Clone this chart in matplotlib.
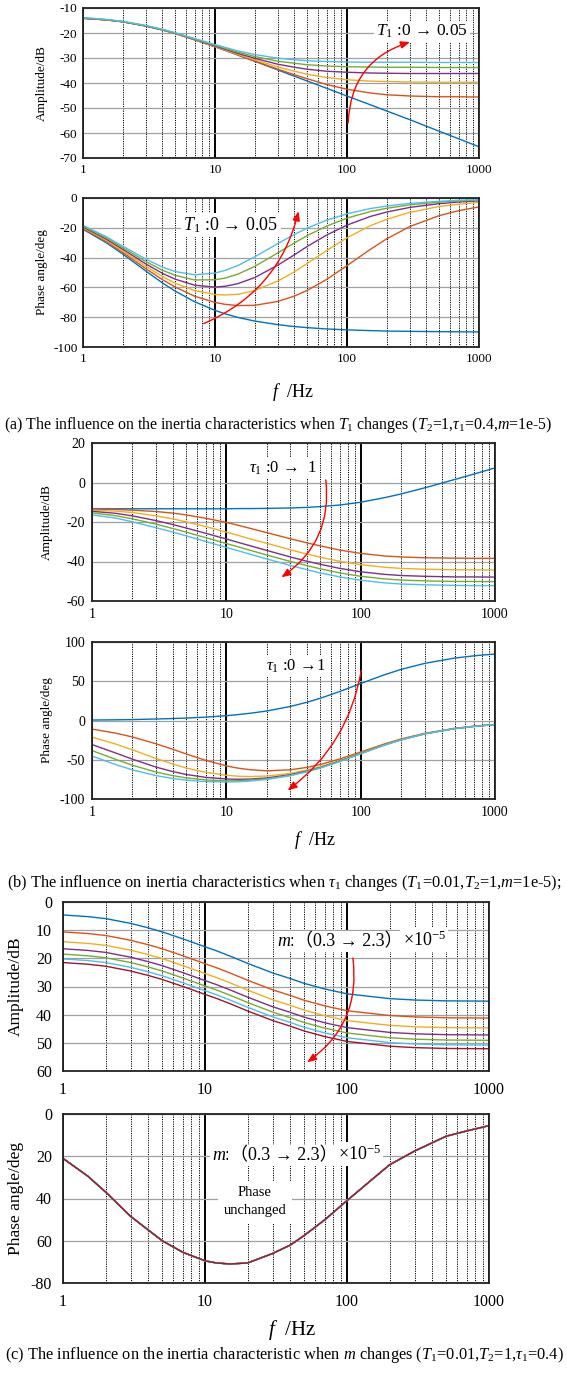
import matplotlib
matplotlib.use("Agg")
import matplotlib.pyplot as plt
from matplotlib.ticker import LogLocator, NullFormatter

plt.rcParams['font.family'] = ['Liberation Serif', 'DejaVu Serif']
plt.rcParams['mathtext.fontset'] = 'custom'
plt.rcParams['mathtext.rm'] = 'Liberation Serif'
plt.rcParams['mathtext.it'] = 'Liberation Serif:italic'
plt.rcParams['axes.unicode_minus'] = False

W, H = 567, 1374

freq = [1, 1.5, 2, 3, 4, 5, 7, 10, 12, 15, 20, 30, 40, 50, 70, 100, 150, 200, 300, 500, 700, 1000]
colors = ['#0072BD', '#D95319', '#EDB120', '#7E2F8E', '#77AC30', '#4DBEEE', '#A2142F']
xticks = [1, 10, 100, 1000]
xticklabels = ['1', '10', '100', '1000']

# (a) T1 : 0 -> 0.05
amp_a = [
    [-14.1, -14.75, -15.5, -17.2, -18.8, -20.2, -22.7, -25.5, -27.0, -28.9, -31.3, -34.8, -37.3, -39.2, -42.1, -45.2, -48.7, -51.2, -54.7, -59.3, -62.3, -65.5],
    [-14.1, -14.75, -15.5, -17.2, -18.8, -20.2, -22.7, -25.5, -26.9, -28.8, -31.2, -34.5, -36.7, -38.3, -40.6, -42.5, -44.0, -44.7, -45.2, -45.5, -45.5, -45.6],
    [-14.1, -14.75, -15.5, -17.2, -18.75, -20.2, -22.6, -25.4, -26.8, -28.6, -30.7, -33.6, -35.3, -36.5, -37.8, -38.7, -39.25, -39.4, -39.6, -39.7, -39.7, -39.7],
    [-14.1, -14.75, -15.5, -17.2, -18.7, -20.1, -22.5, -25.2, -26.5, -28.2, -30.1, -32.5, -33.7, -34.5, -35.3, -35.7, -36.0, -36.1, -36.2, -36.2, -36.2, -36.2],
    [-14.0, -14.7, -15.5, -17.1, -18.65, -20.0, -22.4, -24.9, -26.2, -27.7, -29.4, -31.3, -32.1, -32.7, -33.2, -33.5, -33.6, -33.7, -33.7, -33.8, -33.8, -33.8],
    [-13.8, -14.55, -15.3, -17.0, -18.5, -19.9, -22.2, -24.6, -25.8, -27.2, -28.6, -30.1, -30.7, -31.1, -31.4, -31.6, -31.7, -31.7, -31.7, -31.8, -31.8, -31.8],
]
phase_a = [
    [-21.0, -30.0, -37.6, -49.1, -57.0, -62.5, -69.6, -75.4, -77.8, -80.2, -82.6, -85.0, -86.3, -87.0, -87.9, -88.5, -89.0, -89.3, -89.5, -89.7, -89.8, -89.9],
    [-20.5, -29.2, -36.5, -47.5, -54.8, -59.8, -65.9, -70.1, -71.4, -72.2, -72.0, -69.4, -65.8, -62.0, -54.7, -45.4, -34.5, -27.4, -19.1, -11.8, -8.5, -6.0],
    [-19.9, -28.4, -35.5, -45.9, -52.7, -57.2, -62.1, -64.8, -65.1, -64.6, -62.1, -55.7, -49.5, -43.9, -35.3, -26.7, -18.6, -14.3, -9.6, -5.7, -4.2, -3.0],
    [-19.4, -27.6, -34.4, -44.3, -50.6, -54.5, -58.5, -59.8, -59.2, -57.4, -53.4, -45.0, -38.1, -32.5, -24.9, -18.2, -12.4, -9.4, -6.3, -3.8, -2.7, -1.9],
    [-18.9, -26.8, -33.3, -42.7, -48.5, -51.9, -55.0, -54.9, -53.7, -51.0, -45.9, -36.8, -30.1, -25.2, -18.9, -13.5, -9.1, -6.9, -4.6, -2.8, -2.0, -1.4],
    [-18.3, -26.0, -32.3, -41.1, -46.4, -49.4, -51.5, -50.4, -48.5, -45.2, -39.5, -30.5, -24.4, -20.2, -14.9, -10.6, -7.1, -5.4, -3.6, -2.2, -1.5, -1.1],
]

# (b) tau1 : 0 -> 1
amp_b = [
    [-13.3, -13.3, -13.3, -13.3, -13.3, -13.3, -13.3, -13.3, -13.2, -13.2, -13.1, -12.9, -12.6, -12.2, -11.4, -10.0, -7.7, -5.8, -2.7, 1.5, 4.3, 7.4],
    [-13.5, -13.7, -14.0, -14.7, -15.5, -16.4, -18.1, -20.2, -21.5, -23.2, -25.4, -28.5, -30.6, -32.1, -34.2, -35.9, -37.2, -37.7, -38.1, -38.3, -38.4, -38.4],
    [-14.0, -14.5, -15.2, -16.9, -18.4, -19.9, -22.3, -25.1, -26.6, -28.5, -30.8, -34.1, -36.3, -37.8, -39.9, -41.6, -42.9, -43.5, -43.9, -44.2, -44.2, -44.3],
    [-14.6, -15.6, -16.9, -19.3, -21.3, -23.0, -25.7, -28.6, -30.15, -32.0, -34.4, -37.7, -39.9, -41.4, -43.5, -45.2, -46.5, -47.1, -47.5, -47.8, -47.8, -47.9],
    [-15.4, -16.8, -18.4, -21.1, -23.3, -25.1, -27.9, -30.9, -32.4, -34.3, -36.7, -40.0, -42.1, -43.7, -45.8, -47.5, -48.8, -49.4, -49.8, -50.1, -50.1, -50.2],
    [-16.4, -18.0, -19.9, -22.9, -25.1, -27.0, -29.8, -32.9, -34.4, -36.3, -38.7, -42.0, -44.2, -45.8, -47.8, -49.5, -50.8, -51.4, -51.8, -52.1, -52.2, -52.2],
]
phase_b = [
    [0.6, 0.9, 1.2, 1.9, 2.5, 3.1, 4.3, 6.1, 7.4, 9.2, 12.1, 17.9, 23.3, 28.3, 37.0, 47.1, 58.2, 65.1, 72.8, 79.5, 82.4, 84.7],
    [-10.9, -16.1, -21.0, -29.7, -36.7, -42.5, -50.7, -57.8, -60.5, -62.7, -64.1, -62.8, -59.7, -56.1, -49.0, -40.1, -29.9, -23.5, -16.3, -10.0, -7.2, -5.0],
    [-21.2, -30.0, -37.4, -48.4, -55.5, -60.4, -66.0, -69.8, -70.9, -71.4, -70.7, -67.4, -63.1, -58.9, -51.0, -41.5, -30.9, -24.2, -16.8, -10.3, -7.4, -5.2],
    [-30.6, -41.4, -49.3, -59.4, -65.1, -68.7, -72.4, -74.5, -74.9, -74.6, -73.2, -69.0, -64.3, -59.9, -51.7, -42.0, -31.2, -24.5, -16.9, -10.4, -7.4, -5.2],
    [-38.3, -49.5, -57.0, -65.7, -70.3, -73.0, -75.7, -76.8, -76.8, -76.1, -74.3, -69.8, -64.9, -60.3, -52.0, -42.2, -31.3, -24.6, -17.0, -10.4, -7.5, -5.2],
    [-45.3, -56.2, -62.9, -70.2, -73.9, -75.9, -77.8, -78.3, -78.1, -77.1, -75.1, -70.3, -65.3, -60.6, -52.2, -42.4, -31.4, -24.7, -17.0, -10.4, -7.5, -5.3],
]

# (c) m : (0.3 -> 2.3)e-5, axes drawn downwards
amp_c = [
    [4.6, 5.2, 5.9, 7.6, 9.2, 10.6, 13.1, 15.9, 17.3, 19.2, 21.8, 25.2, 27.2, 28.9, 30.9, 32.6, 33.6, 34.3, 34.8, 35.1, 35.15, 35.2],
    [10.6, 11.2, 11.9, 13.6, 15.2, 16.6, 19.1, 21.9, 23.3, 25.2, 27.8, 31.2, 33.2, 34.9, 36.9, 38.6, 39.6, 40.3, 40.8, 41.1, 41.15, 41.2],
    [14.1, 14.7, 15.4, 17.1, 18.7, 20.1, 22.6, 25.4, 26.8, 28.7, 31.3, 34.7, 36.7, 38.4, 40.4, 42.1, 43.1, 43.8, 44.3, 44.6, 44.65, 44.7],
    [16.6, 17.2, 17.9, 19.6, 21.2, 22.6, 25.1, 27.9, 29.3, 31.2, 33.8, 37.2, 39.2, 40.9, 42.9, 44.6, 45.6, 46.3, 46.8, 47.1, 47.15, 47.2],
    [18.5, 19.1, 19.8, 21.5, 23.1, 24.5, 27.0, 29.8, 31.2, 33.1, 35.7, 39.1, 41.1, 42.8, 44.8, 46.5, 47.5, 48.2, 48.7, 49.0, 49.05, 49.1],
    [20.2, 20.8, 21.5, 23.2, 24.8, 26.2, 28.7, 31.5, 32.9, 34.8, 37.4, 40.8, 42.8, 44.5, 46.5, 48.2, 49.2, 49.9, 50.4, 50.7, 50.75, 50.8],
    [21.5, 22.1, 22.8, 24.5, 26.1, 27.5, 30.0, 32.8, 34.2, 36.1, 38.7, 42.1, 44.1, 45.8, 47.8, 49.5, 50.5, 51.2, 51.7, 52.0, 52.05, 52.1],
]
phase_c = [21, 29.5, 37, 48.5, 55, 60, 65.5, 69.5, 70.5, 71, 70.5, 66, 62, 57.5, 50, 41, 31, 24, 17.5, 10.5, 8, 5.5]

fig = plt.figure(figsize=(W / 100, H / 100), dpi=100)


def px_axes(left, top, right, bottom):
    return fig.add_axes([left / W, 1 - bottom / H, (right - left) / W, (bottom - top) / H])


def style(ax, ylim, yticks, ylabels, fs, pad=4):
    ax.set_xscale('log')
    ax.set_xlim(1, 1000)
    ax.set_ylim(*ylim)
    ax.set_xticks(xticks)
    ax.set_xticklabels(xticklabels)
    ax.xaxis.set_minor_locator(LogLocator(base=10, subs=range(2, 10)))
    ax.xaxis.set_minor_formatter(NullFormatter())
    ax.set_yticks(yticks)
    ax.set_yticklabels(ylabels)
    ax.tick_params(which='both', length=0, labelsize=fs, pad=pad)
    ax.grid(True, which='minor', axis='x', color='black', lw=0.7, ls=(0, (1.2, 1.2)))
    ax.grid(True, which='major', axis='x', color='black', lw=1.4)
    ax.grid(True, which='major', axis='y', color='#a0a0a0', lw=0.9)
    for s in ax.spines.values():
        s.set_linewidth(1.3)
        s.set_color('#222222')


def ylab(x, ax_top, ax_bottom, text, fs):
    fig.text(x / W, 1 - (ax_top + ax_bottom) / 2 / H, text, rotation=90,
             ha='center', va='center', fontsize=fs)


def arrow(ax, start, end, rad):
    ax.annotate('', xy=end, xytext=start,
                arrowprops=dict(arrowstyle='-|>,head_length=0.55,head_width=0.22',
                                color='red', lw=1.0, shrinkA=0, shrinkB=0,
                                connectionstyle=f'arc3,rad={rad}'))


def m_label(ax, x, y, fs):
    # m:（0.3 → 2.3）×10^-5 written in three pieces so the full-width brackets get a CJK font
    a = ax.text(x, y, '$m$:', fontsize=fs, ha='left', va='baseline', bbox=white)
    b = ax.annotate('（0.3 → 2.3）', xy=(1.0, y), xycoords=(a, 'data'), fontsize=fs,
                    ha='left', va='baseline', bbox=white,
                    family=['Liberation Serif', 'Noto Sans CJK SC'])
    ax.annotate(r'×10$^{-5}$', xy=(1.0, y), xycoords=(b, 'data'), fontsize=fs,
                ha='left', va='baseline', bbox=white)


white = dict(facecolor='white', edgecolor='none', pad=1.5)

# ---------- (a) ----------
ax1 = px_axes(83, 8, 479, 158)
for c, y in zip(colors, amp_a):
    ax1.plot(freq, y, color=c, lw=1.0)
style(ax1, (-70, -10), [-70, -60, -50, -40, -30, -20, -10],
      ['-70', '-60', '-50', '-40', '-30', '-20', '-10'], 9.5)
ax1.text(368, -19.4, r'$T_1$ :0 → 0.05', fontsize=12.5, ha='center', va='center', bbox=white)
arrow(ax1, (102, -56), (300, -23.6), -0.35)
ylab(42, 8, 158, 'Amplitude/dB', 9.5)

ax2 = px_axes(83, 198, 479, 347)
for c, y in zip(colors, phase_a):
    ax2.plot(freq, y, color=c, lw=1.0)
style(ax2, (-100, 0), [-100, -80, -60, -40, -20, 0],
      ['-100', '-80', '-60', '-40', '-20', '0'], 9.5)
ax2.text(13.2, -18.3, r'$T_1$ :0 → 0.05', fontsize=13, ha='center', va='center', bbox=white)
arrow(ax2, (8.2, -84.3), (42.9, -8.9), 0.25)
ylab(42, 198, 347, 'Phase angle/deg', 9.5)

fig.text(293 / W, 1 - 392 / H, r'$f$  /Hz', fontsize=13, ha='center', va='center')
fig.text(4 / W, 1 - 425 / H,
         r'(a) The influence on the inertia characteristics when $T_1$ changes ($T_2$=1,$\tau_1$=0.4,$m$=1e-5)',
         fontsize=11.4, ha='left', va='center')

# ---------- (b) ----------
ax3 = px_axes(92, 443, 495, 601)
for c, y in zip(colors, amp_b):
    ax3.plot(freq, y, color=c, lw=1.0)
style(ax3, (-60, 20), [-60, -40, -20, 0, 20], ['-60', '-40', '-20', '0', '20'], 10, pad=5)
ax3.text(26.4, 7.2, r'$\tau_1$ :0 →  1', fontsize=12, ha='center', va='center', bbox=white)
arrow(ax3, (55, 1.3), (25.7, -48), -0.3)
ylab(47, 443, 601, 'Amplitude/dB', 9.5)

ax4 = px_axes(92, 642, 495, 799)
for c, y in zip(colors, phase_b):
    ax4.plot(freq, y, color=c, lw=1.0)
style(ax4, (-100, 100), [-100, -50, 0, 50, 100], ['-100', '-50', '0', '50', '100'], 10, pad=5)
ax4.text(32.6, 69.2, r'$\tau_1$ :0 →1', fontsize=12, ha='center', va='center', bbox=white)
arrow(ax4, (101, 63.7), (28.6, -88.9), -0.2)
ylab(47, 642, 799, 'Phase angle/deg', 9.5)

fig.text(315 / W, 1 - 840 / H, r'$f$  /Hz', fontsize=13, ha='center', va='center')
fig.text(7 / W, 1 - 883 / H,
         r'(b) The influence on inertia characteristics when $\tau_1$ changes ($T_1$=0.01,$T_2$=1,$m$=1e-5);',
         fontsize=11.8, ha='left', va='center')

# ---------- (c) ----------
ax5 = px_axes(63, 902, 489, 1071)
for c, y in zip(colors, amp_c):
    ax5.plot(freq, y, color=c, lw=1.0)
style(ax5, (60, 0), [0, 10, 20, 30, 40, 50, 60],
      ['0', '10', '20', '30', '40', '50', '60'], 11.5, pad=8)
m_label(ax5, 31.9, 15.6, 13)
arrow(ax5, (110, 19.9), (52.4, 56.9), -0.3)
ylab(16, 902, 1071, 'Amplitude/dB', 12.5)

ax6 = px_axes(63, 1114, 489, 1283)
for c in colors:
    ax6.plot(freq, phase_c, color=c, lw=1.0)
style(ax6, (80, 0), [0, 20, 40, 60, 80], ['0', '20', '40', '60', '-80'], 11.5, pad=8)
m_label(ax6, 11.2, 21.8, 13)
ax6.text(22.5, 41.5, 'Phase\nunchanged', fontsize=10.5, ha='center', va='center',
         linespacing=1.5, bbox=dict(facecolor='white', edgecolor='none', pad=4))
ylab(16, 1114, 1283, 'Phase angle/deg', 12.5)

fig.text(292 / W, 1 - 1330 / H, r'$f$  /Hz', fontsize=15, ha='center', va='center')
fig.text(5 / W, 1 - 1355 / H,
         r'(c) The influence on the inertia characteristic when $m$ changes ($T_1$=0.01,$T_2$=1,$\tau_1$=0.4)',
         fontsize=11.8, ha='left', va='center')

fig.savefig('out.png', dpi=100)
